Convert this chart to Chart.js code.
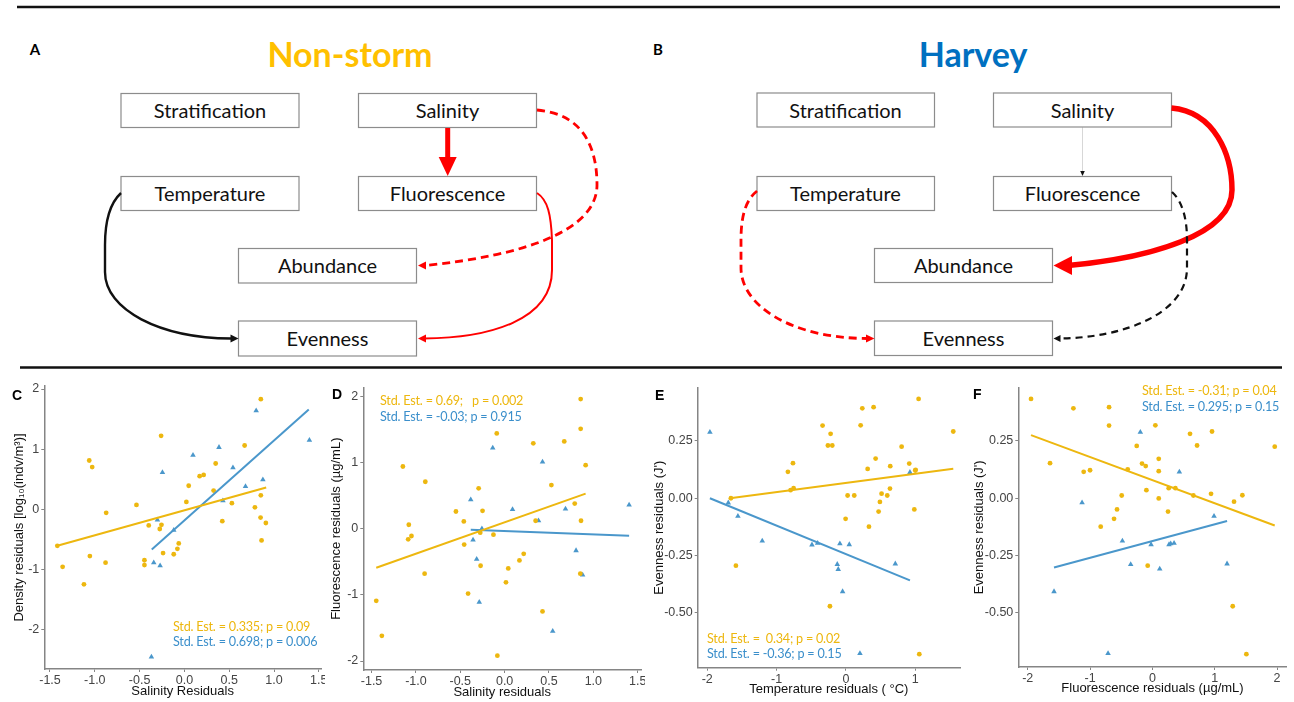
<!DOCTYPE html>
<html><head><meta charset="utf-8">
<script src="https://cdn.jsdelivr.net/npm/chart.js@4.4.1/dist/chart.umd.min.js"></script>
<style>
html,body{margin:0;padding:0;background:#fff;}
#wrap{position:relative;width:1294px;height:702px;overflow:hidden;background:#fff;}
canvas{position:absolute;}
.lbl{position:absolute;font-family:'Liberation Sans',Arial,sans-serif;font-weight:bold;font-size:14px;color:#000;line-height:14px;}
.ann{position:absolute;font-family:Lato,sans-serif;font-size:12.6px;letter-spacing:-0.2px;white-space:pre;line-height:14px;}
.y{color:#EDB70F;} .b{color:#3B8FCB;}
</style></head>
<body><div id="wrap">
<svg width="1294" height="375" style="position:absolute;left:0;top:0" font-family="Lato, sans-serif">
  <line x1="17" y1="7" x2="1280" y2="7" stroke="#111" stroke-width="2.6"/>
  <line x1="20" y1="367.5" x2="1282" y2="367.5" stroke="#111" stroke-width="2.6"/>
  <text x="35" y="49" font-size="15" font-weight="bold" text-anchor="middle" dominant-baseline="central">A</text>
  <text x="658" y="49" font-size="15" font-weight="bold" text-anchor="middle" dominant-baseline="central">B</text>
  <text x="350" y="53" font-size="34" font-weight="bold" fill="#FFC000" text-anchor="middle" dominant-baseline="central">Non-storm</text>
  <text x="973" y="53" font-size="34" font-weight="bold" fill="#0070C0" text-anchor="middle" dominant-baseline="central">Harvey</text>
  <g fill="#fff" stroke="#8c8c8c" stroke-width="1.2">
    <rect x="121" y="93.5" width="178" height="34"/>
    <rect x="358.5" y="93.5" width="178" height="34"/>
    <rect x="121" y="176.5" width="178" height="34"/>
    <rect x="358.5" y="176.5" width="178" height="34"/>
    <rect x="238.5" y="248.5" width="178" height="34.5"/>
    <rect x="238.5" y="321" width="178" height="35"/>
    <rect x="757" y="93" width="177.5" height="34"/>
    <rect x="993.5" y="93" width="178" height="34"/>
    <rect x="757" y="176.5" width="177.5" height="34"/>
    <rect x="993.5" y="176.5" width="178" height="34"/>
    <rect x="874.5" y="248.5" width="178" height="34"/>
    <rect x="874.5" y="321" width="178" height="34.5"/>
  </g>
  <g font-size="20" text-anchor="middle" dominant-baseline="central" fill="#111">
    <text x="210" y="110">Stratification</text>
    <text x="447.5" y="110">Salinity</text>
    <text x="210" y="193">Temperature</text>
    <text x="447.5" y="193">Fluorescence</text>
    <text x="327.5" y="265">Abundance</text>
    <text x="327.5" y="338">Evenness</text>
    <text x="845.5" y="109.5">Stratification</text>
    <text x="1082.5" y="109.5">Salinity</text>
    <text x="845.5" y="193">Temperature</text>
    <text x="1082.5" y="193">Fluorescence</text>
    <text x="963.5" y="265">Abundance</text>
    <text x="963.5" y="337.5">Evenness</text>
  </g>
  <!-- Non-storm arrows -->
  <path d="M121,193 C108,205 105,225 105,245 L105,272 C105,310 160,338 231,338.5" fill="none" stroke="#111" stroke-width="2.4"/>
  <polygon points="238.5,338.5 230.5,334.5 230.5,342.5" fill="#111"/>
  <rect x="445.2" y="128" width="5" height="30" fill="#f00"/>
  <polygon points="438.7,157 456.7,157 447.7,176" fill="#f00"/>
  <path d="M537,110 C585,114 597,150 597,185 C597,232 520,256 425,265.5" fill="none" stroke="#f00" stroke-width="2.8" stroke-dasharray="8,5"/>
  <polygon points="418,265.5 426,261.5 426,269.5" fill="#f00"/>
  <path d="M537,193 C548,200 551,215 552,240 L552,270 C552,320 490,338 424,338.5" fill="none" stroke="#f00" stroke-width="2"/>
  <polygon points="418,338.5 426,334.5 426,342.5" fill="#f00"/>
  <!-- Harvey arrows -->
  <path d="M757,191 C746,200 741,215 741,240 L741,268 C741,305 790,338 867,338.5" fill="none" stroke="#f00" stroke-width="2.8" stroke-dasharray="8,5"/>
  <polygon points="874.5,338.5 866,334.5 866,342.5" fill="#f00"/>
  <line x1="1082.5" y1="127.5" x2="1082.5" y2="171" stroke="#999" stroke-width="0.8" stroke-dasharray="1,1"/>
  <polygon points="1082.5,176 1080.2,171 1084.8,171" fill="#111"/>
  <path d="M1171.5,108 C1215,112 1232,155 1232,190 C1232,235 1150,258 1068,265.5" fill="none" stroke="#f00" stroke-width="5.5"/>
  <polygon points="1053.5,265.5 1072,256 1072,275" fill="#f00"/>
  <path d="M1172,192 C1183,202 1187,220 1187,240 L1187,268 C1187,315 1120,338 1060,338.5" fill="none" stroke="#111" stroke-width="2.2" stroke-dasharray="7,5"/>
  <polygon points="1053.5,338.5 1060.5,335 1060.5,342" fill="#111"/>
</svg>

<canvas id="cC" width="325" height="322" style="left:0;top:378px"></canvas>
<canvas id="cD" width="320" height="322" style="left:325px;top:378px"></canvas>
<canvas id="cE" width="325" height="322" style="left:645px;top:378px"></canvas>
<canvas id="cF" width="329" height="322" style="left:965px;top:378px"></canvas>

<div class="lbl" style="left:12px;top:388px">C</div>
<div class="lbl" style="left:332px;top:387px">D</div>
<div class="lbl" style="left:655px;top:388px">E</div>
<div class="lbl" style="left:973px;top:387px">F</div>

<div class="ann y" style="left:173px;top:620px">Std. Est. = 0.335; p = 0.09</div>
<div class="ann b" style="left:173px;top:635px">Std. Est. = 0.698; p = 0.006</div>
<div class="ann y" style="left:380px;top:394px">Std. Est. = 0.69;   p = 0.002</div>
<div class="ann b" style="left:380px;top:410px">Std. Est. = -0.03; p = 0.915</div>
<div class="ann y" style="left:707px;top:632px">Std. Est. =  0.34; p = 0.02</div>
<div class="ann b" style="left:707px;top:647px">Std. Est. = -0.36; p = 0.15</div>
<div class="ann y" style="left:1142px;top:384px">Std. Est. = -0.31; p = 0.04</div>
<div class="ann b" style="left:1142px;top:400px">Std. Est. = 0.295; p = 0.15</div>
</div>
<script>
// ---------- Panel C: Density residuals vs Salinity residuals ----------
const cNonStormX = [-1.418,-1.359,-1.121,-1.062,-1.029,-1.055,-0.873,-0.880,-0.535,-0.446,-0.446,-0.398,-0.260,-0.275,-0.256,-0.238,-0.119,-0.078,-0.063,0.022,0.048,0.170,0.215,0.326,0.349,0.423,0.530,0.672,0.787,0.853,0.853,0.850,0.909,0.861];
const cNonStormY = [-0.61,-0.96,-1.25,0.81,0.70,-0.78,-0.06,-0.89,0.07,-0.85,-0.93,-0.27,1.22,-0.33,-0.26,-0.73,-0.75,-0.66,-0.57,0.12,0.39,0.55,0.57,0.31,0.76,-0.20,0.10,1.06,0.03,1.83,0.23,-0.14,-0.23,-0.52];
const cHarveyX = [-0.301,-0.342,-0.271,-0.245,-0.119,-0.368,0.096,0.386,0.542,0.430,0.682,0.801,0.876,1.395];
const cHarveyY = [-0.18,-0.89,-0.94,0.61,-0.35,-2.46,0.90,1.03,0.69,0.14,0.38,1.64,0.49,1.15];
const cFitNonStormX = [-1.418, 0.913], cFitNonStormY = [-0.61, 0.36];
const cFitHarveyX = [-0.364, 1.388], cFitHarveyY = [-0.67, 1.66];
const cXTicks = [-1.5,-1.0,-0.5,0.0,0.5,1.0,1.5], cXLabels = ['-1.5','-1.0','-0.5','0.0','0.5','1.0','1.5'];
const cYTicks = [-2,-1,0,1,2], cYLabels = ['-2','-1','0','1','2'];

// ---------- Panel D: Fluorescence residuals vs Salinity residuals ----------
const dNonStormX = [-1.447,-1.384,-1.147,-1.080,-1.087,-1.050,-0.894,-0.902,-0.549,-0.460,-0.456,-0.412,-0.293,-0.275,-0.271,-0.249,-0.126,-0.089,-0.082,0.015,0.041,0.167,0.215,0.323,0.349,0.427,0.527,0.672,0.790,0.857,0.857,0.861,0.853,0.913];
const dNonStormY = [-1.09,-1.62,0.94,0.06,-0.16,-0.11,0.71,-0.68,0.26,0.11,-0.24,-0.98,0.61,-0.06,-0.56,0.27,-0.09,1.44,-1.92,-0.81,-0.60,-0.48,-0.38,1.29,0.12,-1.25,0.66,1.32,0.38,1.96,1.51,0.12,-0.68,0.96];
const dHarveyX = [-0.382,-0.356,-0.315,-0.286,-0.256,-0.134,0.089,0.382,0.427,0.542,0.686,0.805,0.879,1.403];
const dHarveyY = [0.44,-0.17,-0.46,-1.11,0.00,1.22,0.29,0.12,1.01,-1.55,0.30,-0.33,-0.70,0.36];
const dFitNonStormX = [-1.447, 0.913], dFitNonStormY = [-0.59, 0.53];
const dFitHarveyX = [-0.382, 1.403], dFitHarveyY = [-0.015, -0.105];
const dXTicks = [-1.5,-1.0,-0.5,0.0,0.5,1.0,1.5], dXLabels = ['-1.5','-1.0','-0.5','0.0','0.5','1.0','1.5'];
const dYTicks = [-2,-1,0,1,2], dYLabels = ['-2','-1','0','1','2'];

// ---------- Panel E: Evenness residuals vs Temperature residuals ----------
const eNonStormX = [-1.659,-1.587,-0.837,-0.798,-0.764,-0.755,-0.337,-0.260,-0.221,-0.197,-0.231,-0.005,0.024,0.120,0.212,0.236,0.313,0.332,0.399,0.428,0.471,0.490,0.514,0.596,0.635,0.639,0.803,0.913,0.986,1.000,1.005,1.048,1.058,1.548];
const eNonStormY = [0.000,-0.294,0.115,0.035,0.153,0.044,0.317,0.230,0.281,0.230,-0.471,-0.090,0.012,0.012,0.318,0.392,0.128,-0.124,0.397,0.173,-0.058,-0.016,0.020,0.012,0.042,0.140,0.225,0.151,-0.049,0.121,0.124,0.433,-0.680,0.291];
const eHarveyX = [-1.962,-1.697,-1.558,-1.207,-0.490,-0.409,-0.125,-0.111,-0.087,-0.048,0.048,0.202,0.712,0.923];
const eHarveyY = [0.288,-0.020,-0.078,-0.186,-0.203,-0.196,-0.288,-0.310,-0.198,-0.407,-0.202,-0.677,-0.286,0.113];
const eFitNonStormX = [-1.673, 1.548], eFitNonStormY = [0.000, 0.129];
const eFitHarveyX = [-1.962, 0.923], eFitHarveyY = [0.000, -0.358];
const eXTicks = [-2,-1,0,1], eXLabels = ['-2','-1','0','1'];
const eYTicks = [-0.5,-0.25,0,0.25], eYLabels = ['-0.50','-0.25','0.00','0.25'];

// ---------- Panel F: Evenness residuals vs Fluorescence residuals ----------
const fNonStormX = [-1.947,-1.642,-1.267,-1.102,-1.000,-0.829,-0.695,-0.695,-0.615,-0.567,-0.492,-0.396,-0.251,-0.166,-0.107,-0.096,-0.075,0.048,0.102,0.102,0.102,0.251,0.262,0.369,0.604,0.658,0.717,0.941,0.957,1.310,1.289,1.444,1.508,1.963];
const fNonStormY = [0.433,0.153,0.392,0.115,0.122,-0.124,0.397,0.317,-0.090,-0.049,0.012,0.126,0.228,0.151,0.140,0.035,-0.294,0.318,0.172,0.118,-0.001,-0.058,0.044,0.044,0.281,0.012,0.230,0.019,0.291,-0.015,-0.471,0.013,-0.680,0.225];
const fHarveyX = [-1.578,-1.128,-0.711,-0.481,-0.348,-0.193,-0.021,0.118,0.267,0.294,0.348,0.433,0.989,1.198];
const fHarveyY = [-0.407,-0.019,-0.677,-0.186,-0.289,0.288,-0.202,-0.308,-0.202,-0.198,-0.196,0.115,-0.078,-0.286];
const fFitNonStormX = [-1.947, 1.963], fFitNonStormY = [0.275, -0.119];
const fFitHarveyX = [-1.578, 1.198], fFitHarveyY = [-0.302, -0.099];
const fXTicks = [-2,-1,0,1,2], fXLabels = ['-2','-1','0','1','2'];
const fYTicks = [-0.5,-0.25,0,0.25], fYLabels = ['-0.50','-0.25','0.00','0.25'];

const YEL = '#EDB70F', BLU = '#4A97CB', AX = '#858585';
const FONT = "'Liberation Sans', Arial, sans-serif";
const pts = (xs, ys) => xs.map((x, i) => ({x: x, y: ys[i]}));

function panel(id, c) {
  new Chart(document.getElementById(id), {
    type: 'scatter',
    data: { datasets: [
      {type:'line', data: pts(c.fitNX, c.fitNY), borderColor: YEL, borderWidth: 2, pointRadius: 0, fill: false, tension: 0},
      {type:'line', data: pts(c.fitHX, c.fitHY), borderColor: BLU, borderWidth: 2, pointRadius: 0, fill: false, tension: 0},
      {data: pts(c.nX, c.nY), pointStyle: 'circle', pointRadius: 2.4, backgroundColor: YEL, borderColor: YEL, borderWidth: 0},
      {data: pts(c.hX, c.hY), pointStyle: 'triangle', pointRadius: 3.2, backgroundColor: BLU, borderColor: BLU, borderWidth: 0}
    ]},
    options: {
      responsive: false, animation: false, devicePixelRatio: 1,
      layout: {padding: {left: 0, right: c.padR, top: c.padT, bottom: 0}},
      plugins: {legend: {display: false}, tooltip: {enabled: false}},
      scales: {
        x: {
          type: 'linear', position: 'bottom', min: c.xMin, max: c.xMax,
          afterBuildTicks: s => { s.ticks = c.xTicks.map(v => ({value: v})); },
          afterFit: s => { s.height = c.xH; s.paddingLeft = 0; s.paddingRight = 0; },
          ticks: {autoSkip: false, maxRotation: 0, minRotation: 0, padding: 1, color: '#444',
                  font: {family: FONT, size: 12.5}, callback: (v, i) => c.xLabels[i]},
          grid: {drawOnChartArea: false, drawTicks: true, tickLength: 3, color: AX, lineWidth: 1},
          border: {display: true, color: AX, width: 1.5},
          title: {display: true, text: c.xTitle, color: '#111', font: {family: FONT, size: 13}, padding: {top: 0, bottom: c.xTitlePad}}
        },
        y: {
          type: 'linear', position: 'left', min: c.yMin, max: c.yMax,
          afterBuildTicks: s => { s.ticks = c.yTicks.map(v => ({value: v})); },
          afterFit: s => { s.width = c.yW; s.paddingTop = 0; s.paddingBottom = 0; },
          ticks: {autoSkip: false, padding: 2, color: '#444',
                  font: {family: FONT, size: 12.5}, callback: (v, i) => c.yLabels[i]},
          grid: {drawOnChartArea: false, drawTicks: true, tickLength: 3, color: AX, lineWidth: 1},
          border: {display: true, color: AX, width: 1.5},
          title: {display: true, text: c.yTitle, color: '#111', font: {family: FONT, size: 13}, padding: {top: c.yTitlePad, bottom: 0}}
        }
      }
    }
  });
}

panel('cC', {nX: cNonStormX, nY: cNonStormY, hX: cHarveyX, hY: cHarveyY,
  fitNX: cFitNonStormX, fitNY: cFitNonStormY, fitHX: cFitHarveyX, fitHY: cFitHarveyY,
  xTicks: cXTicks, xLabels: cXLabels, yTicks: cYTicks, yLabels: cYLabels,
  xMin: -1.5635, xMax: 1.5245, yMin: -2.66, yMax: 2.05,
  padR: 3.3, padT: 8, xH: 31, yW: 44.3, xTitlePad: 0.5, yTitlePad: 12,
  xTitle: 'Salinity Residuals', yTitle: 'Density residuals [log\u2081\u2080(indv/m\u00B3)]'});

panel('cD', {nX: dNonStormX, nY: dNonStormY, hX: dHarveyX, hY: dHarveyY,
  fitNX: dFitNonStormX, fitNY: dFitNonStormY, fitHX: dFitHarveyX, fitHY: dFitHarveyY,
  xTicks: dXTicks, xLabels: dXLabels, yTicks: dYTicks, yLabels: dYLabels,
  xMin: -1.593, xMax: 1.537, yMin: -2.136, yMax: 2.136,
  padR: 0, padT: 9.4, xH: 30, yW: 38.3, xTitlePad: 0, yTitlePad: 3.8,
  xTitle: 'Salinity residuals', yTitle: 'Fluorescence residuals (\u00B5g/mL)'});

panel('cE', {nX: eNonStormX, nY: eNonStormY, hX: eHarveyX, hY: eHarveyY,
  fitNX: eFitNonStormX, fitNY: eFitNonStormY, fitHX: eFitHarveyX, fitHY: eFitHarveyY,
  xTicks: eXTicks, xLabels: eXLabels, yTicks: eYTicks, yLabels: eYLabels,
  xMin: -2.138, xMax: 1.645, yMin: -0.739, yMax: 0.482,
  padR: 10, padT: 9.7, xH: 32.3, yW: 52.7, xTitlePad: 2.9, yTitlePad: 7,
  xTitle: 'Temperature residuals ( \u00B0C)', yTitle: "Evenness residuals (J')"});

panel('cF', {nX: fNonStormX, nY: fNonStormY, hX: fHarveyX, hY: fHarveyY,
  fitNX: fFitNonStormX, fitNY: fFitNonStormY, fitHX: fFitHarveyX, fitHY: fFitHarveyY,
  xTicks: fXTicks, xLabels: fXLabels, yTicks: fYTicks, yLabels: fYLabels,
  xMin: -2.151, xMax: 2.155, yMin: -0.736, yMax: 0.482,
  padR: 7.3, padT: 9.7, xH: 33, yW: 53.3, xTitlePad: 3.9, yTitlePad: 7,
  xTitle: 'Fluorescence residuals (\u00B5g/mL)', yTitle: "Evenness residuals (J')"});
</script>
</body></html>
